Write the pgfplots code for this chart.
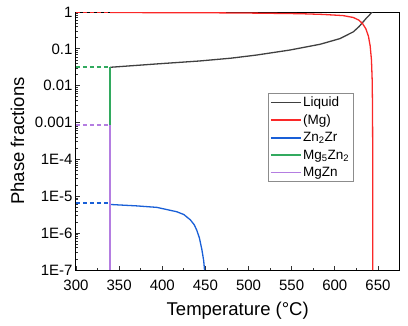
\documentclass[border=0pt]{standalone}
\usepackage{pgfplots}
\pgfplotsset{compat=1.18}
\usepackage{fontspec}
\setmainfont{Liberation Sans}
\definecolor{cliq}{RGB}{64,64,64}
\definecolor{cmg}{RGB}{250,40,40}
\definecolor{czr}{RGB}{25,95,215}
\definecolor{cg}{RGB}{50,170,95}
\definecolor{cp}{RGB}{180,125,225}
\begin{document}
\begin{tikzpicture}
\begin{axis}[
  scale only axis, width=323.5pt, height=258pt,
  ymode=log, xmin=300, xmax=675, ymin=1e-7, ymax=1,
  xtick={300,350,...,650}, minor x tick num=1,
  ytick={1e-7,1e-6,1e-5,1e-4,1e-3,1e-2,1e-1,1},
  yticklabels={1E-7,1E-6,1E-5,1E-4,0.001,0.01,0.1,1},
  tick pos=left, tick align=inside,
  major tick length=4pt, minor tick length=2pt,
  axis line style={line width=1pt},
  every tick/.style={line width=0.8pt, black!80},
  /pgf/number format/assume math mode=true,
  tick label style={font=\fontsize{15}{17}\selectfont},
  xticklabel style={anchor=base, yshift=-20pt},
  yticklabel style={anchor=east},
  xlabel={Temperature (°C)}, ylabel={Phase fractions},
  label style={font=\fontsize{18.5}{21}\selectfont},
  xlabel style={at={(axis description cs:0.5,-0.178)}, anchor=base},
  ylabel style={at={(axis description cs:-0.16,0.5)}, anchor=base},
  legend style={at={(0.856,0.686)}, anchor=north east, draw=black!45,
    font=\fontsize{13.5}{15}\selectfont, inner sep=2pt, row sep=3.6pt,
    nodes={inner sep=1.5pt}},
  legend cell align=left,
  legend image code/.code={\draw[#1, line width=1.6pt] (0pt,0pt) -- (30pt,0pt);},
]
% dashed extensions
\addplot[cmg, line width=1.4pt, dash pattern=on 4pt off 3pt, forget plot] coordinates {(300,1) (339.5,1)};
\addplot[cg, line width=1.4pt, dash pattern=on 4pt off 3pt, forget plot] coordinates {(300,0.032) (339.5,0.032)};
\addplot[cp, line width=1.4pt, dash pattern=on 4pt off 3pt, forget plot] coordinates {(300,8.5e-4) (339.5,8.5e-4)};
\addplot[czr, line width=1.5pt, dash pattern=on 4pt off 3pt, forget plot] coordinates {(300,6.6e-6) (339.5,6.6e-6)};
% Liquid
\addplot[cliq, line width=1.3pt] coordinates {
(339.5,0.0316) (393.5,0.039) (443.7,0.047) (480,0.056) (509.4,0.068) (548,0.093)
(582.8,0.133) (606,0.19) (621.5,0.29) (628,0.40) (632.3,0.52) (637,0.70)
(640,0.82) (642,0.93) (643.5,1.0)};
\addlegendentry{Liquid}
% (Mg)
\addplot[cmg, line width=1.3pt] coordinates {
(339.5,0.968) (450,0.955) (509.4,0.932) (560,0.90) (586,0.86) (609.5,0.80)
(621.5,0.71) (628,0.60) (632.3,0.48) (636,0.35) (639,0.22) (641,0.12)
(642.5,0.05) (643.3,0.015) (643.7,0.003) (643.9,3e-4) (644,1e-7)};
\addlegendentry{(Mg)}
% Zn2Zr
\addplot[czr, line width=1.3pt] coordinates {
(339.5,6.0e-6) (370,5.5e-6) (393.8,5.0e-6) (417,3.8e-6) (425,3.2e-6) (432.5,2.3e-6)
(437,1.7e-6) (440,1.2e-6) (443,7.5e-7) (446,3.5e-7) (448,1.8e-7) (449,1e-7)};
\addlegendentry{Zn\textsubscript{2}Zr}
% Mg5Zn2
\addplot[cg, line width=1.3pt] coordinates {(339.5,0.0316) (339.5,8.5e-4)};
\addlegendentry{Mg\textsubscript{5}Zn\textsubscript{2}}
% MgZn
\addplot[cp, line width=1.3pt] coordinates {(339.5,8.5e-4) (339.5,1e-7)};
\addlegendentry{MgZn}
\end{axis}
\pgfresetboundingbox
\path[use as bounding box] (-76pt,-55pt) rectangle (332pt,270pt);
\end{tikzpicture}
\end{document}
